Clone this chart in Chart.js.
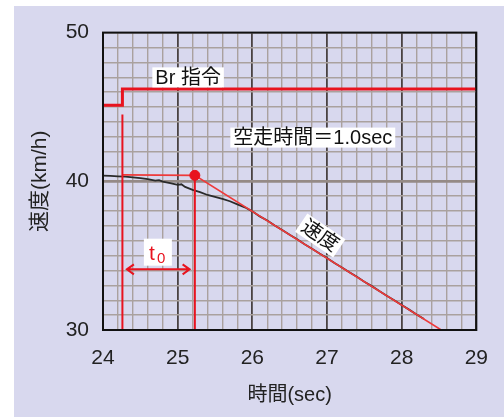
<!DOCTYPE html>
<html><head><meta charset="utf-8">
<script src="https://cdn.jsdelivr.net/npm/chart.js@4"></script>
<style>
html,body{margin:0;padding:0;background:#fff;width:504px;height:417px;overflow:hidden}
#bg{position:absolute;left:14px;top:6px;width:490px;height:411px;background:#d8d8ee}
canvas{display:block}
</style></head><body>
<div id="bg"><canvas id="c" width="490" height="411"></canvas></div>
<script>
// ---- data ----
const brTime = [24, 24.26, 24.26, 29];
const brValue = [45.12, 45.12, 46.21, 46.21];
const startLineTime = [24.26, 24.26];
const startLineValue = [30, 44.5];
const endLineTime = [25.23, 25.23];
const endLineValue = [30, 40.4];
const fitTime = [24.26, 25.23, 28.53];
const fitValue = [40.43, 40.4, 30];
const dotTime = [25.23];
const dotValue = [40.4];
const speedTime = [24.00,24.10,24.20,24.30,24.40,24.50,24.60,24.70,24.75,24.80,24.90,25.00,25.05,25.10,25.20,25.30,25.40,25.50,25.60,25.70,25.80,25.90,26.00,26.10,26.20,26.30,26.40,26.50,26.60,26.70,26.80,26.90,27.00,27.10,27.20,27.30,27.40,27.50,27.60,27.70,27.80,27.90,28.00,28.10,28.20,28.30];
const speedValue = [40.38,40.36,40.33,40.31,40.26,40.21,40.14,40.05,40.08,39.98,39.88,39.76,39.80,39.62,39.42,39.27,39.08,38.96,38.82,38.66,38.45,38.25,37.98,37.64,37.36,37.03,36.73,36.40,36.10,35.76,35.47,35.14,34.84,34.50,34.20,33.88,33.58,33.25,32.95,32.62,32.31,32.00,31.68,31.37,31.05,30.74];
const xTickLabels = ['24','25','26','27','28','29'];
const yTickLabels = ['30','40','50'];
const xTitle = '時間(sec)';
const yTitle = '速度(km/h)';

const pts = (xs, ys) => xs.map((x, i) => ({x, y: ys[i]}));
const RED = '#e8131f';
const FONT = "'Liberation Sans', 'Noto Sans CJK JP', sans-serif";

const annot = {
  id: 'annot',
  afterDatasetsDraw(chart) {
    const {ctx, scales: {x, y}} = chart;
    ctx.save();
    function boxText(txt, cx, cy, size, color) {
      ctx.font = size + 'px ' + FONT;
      ctx.textAlign = 'center';
      ctx.textBaseline = 'middle';
      const w = ctx.measureText(txt).width;
      ctx.fillStyle = '#fff';
      ctx.fillRect(cx - w / 2 - 3, cy - size * 0.5, w + 6, size);
      ctx.fillStyle = color;
      ctx.fillText(txt, cx, cy + 1);
    }
    boxText('Br 指令', x.getPixelForValue(25.14), y.getPixelForValue(46.99), 20, '#111');
    boxText('空走時間＝1.0sec', x.getPixelForValue(26.81), y.getPixelForValue(42.94), 20, '#111');
    // rotated 速度
    ctx.save();
    ctx.translate(x.getPixelForValue(26.91), y.getPixelForValue(36.35));
    ctx.rotate(34 * Math.PI / 180);
    ctx.font = '20px ' + FONT;
    ctx.textAlign = 'center';
    ctx.textBaseline = 'middle';
    const w2 = ctx.measureText('速度').width;
    ctx.fillStyle = '#fff';
    ctx.fillRect(-w2 / 2 - 3, -11, w2 + 6, 22);
    ctx.fillStyle = '#111';
    ctx.fillText('速度', 0, 1);
    ctx.restore();
    // t0
    const tx = x.getPixelForValue(24.735), ty = y.getPixelForValue(35.2);
    ctx.fillStyle = '#fff';
    ctx.fillRect(tx - 14, ty - 14, 28, 27);
    ctx.fillStyle = RED;
    ctx.textBaseline = 'alphabetic';
    ctx.textAlign = 'left';
    ctx.font = '21px ' + FONT;
    ctx.fillText('t', tx - 9, ty + 7);
    ctx.font = '15px ' + FONT;
    ctx.fillText('0', tx - 1, ty + 10);
    // double arrow
    const ay = y.getPixelForValue(34.08);
    const ax1 = x.getPixelForValue(24.32), ax2 = x.getPixelForValue(25.16);
    ctx.strokeStyle = RED;
    ctx.lineWidth = 2;
    ctx.beginPath();
    ctx.moveTo(ax1, ay); ctx.lineTo(ax2, ay);
    ctx.moveTo(ax1 + 7, ay - 5); ctx.lineTo(ax1, ay); ctx.lineTo(ax1 + 7, ay + 5);
    ctx.moveTo(ax2 - 7, ay - 5); ctx.lineTo(ax2, ay); ctx.lineTo(ax2 - 7, ay + 5);
    ctx.stroke();
    ctx.restore();
  }
};

const isInt = v => Math.abs(v - Math.round(v)) < 1e-6;

new Chart(document.getElementById('c'), {
  type: 'line',
  data: {
    datasets: [
      {data: pts(dotTime, dotValue), showLine: false, pointRadius: 5, pointBackgroundColor: RED, pointBorderColor: RED, order: 0},
      {data: pts(brTime, brValue), borderColor: RED, borderWidth: 3, pointRadius: 0, order: 1},
      {data: pts(startLineTime, startLineValue), borderColor: RED, borderWidth: 2, pointRadius: 0, order: 2},
      {data: pts(endLineTime, endLineValue), borderColor: RED, borderWidth: 2, pointRadius: 0, order: 3},
      {data: pts(fitTime, fitValue), borderColor: '#ee3a3a', borderWidth: 1.6, pointRadius: 0, order: 4},
      {data: pts(speedTime, speedValue), borderColor: '#2a2a2a', borderWidth: 1.8, pointRadius: 0, order: 5}
    ]
  },
  options: {
    responsive: false,
    animation: false,
    events: [],
    layout: {padding: {top: 25, right: 27, left: 0, bottom: 0}},
    plugins: {legend: {display: false}, tooltip: {enabled: false}},
    scales: {
      x: {
        type: 'linear', min: 24, max: 29,
        afterFit(s) { s.height = 87; },
        ticks: {
          stepSize: 0.2, autoSkip: false, maxRotation: 0, padding: 16,
          color: '#222', font: {family: FONT, size: 21},
          callback: v => isInt(v) ? xTickLabels[Math.round(v) - 24] : ''
        },
        grid: {
          drawTicks: false,
          color: c => isInt(c.tick.value) ? '#4a4242' : '#aaa19e',
          lineWidth: c => isInt(c.tick.value) ? 1.8 : 1.4
        },
        border: {color: '#111', width: 2},
        title: {display: true, text: xTitle, color: '#222', font: {family: FONT, size: 20}, padding: {top: 0, bottom: 10}}
      },
      y: {
        min: 30, max: 50,
        afterFit(s) { s.width = 89; },
        ticks: {
          stepSize: 1, autoSkip: false, padding: 14,
          color: '#222', font: {family: FONT, size: 21},
          callback: v => (v % 10 === 0) ? yTickLabels[(v - 30) / 10] : ''
        },
        grid: {
          drawTicks: false,
          color: c => c.tick.value === 40 ? '#958a86' : '#aaa19e',
          lineWidth: c => c.tick.value === 40 ? 2.8 : 1.4
        },
        border: {color: '#111', width: 2},
        title: {display: true, text: yTitle, color: '#222', font: {family: FONT, size: 21}, padding: {top: 14, bottom: 0}}
      }
    }
  },
  plugins: [annot, {
    id: 'frame',
    afterDraw(chart) {
      const {ctx, chartArea: a} = chart;
      ctx.save();
      ctx.strokeStyle = '#111';
      ctx.lineWidth = 2;
      ctx.strokeRect(a.left, a.top, a.right - a.left, a.bottom - a.top);
      ctx.restore();
    }
  }]
});
</script>
</body></html>
